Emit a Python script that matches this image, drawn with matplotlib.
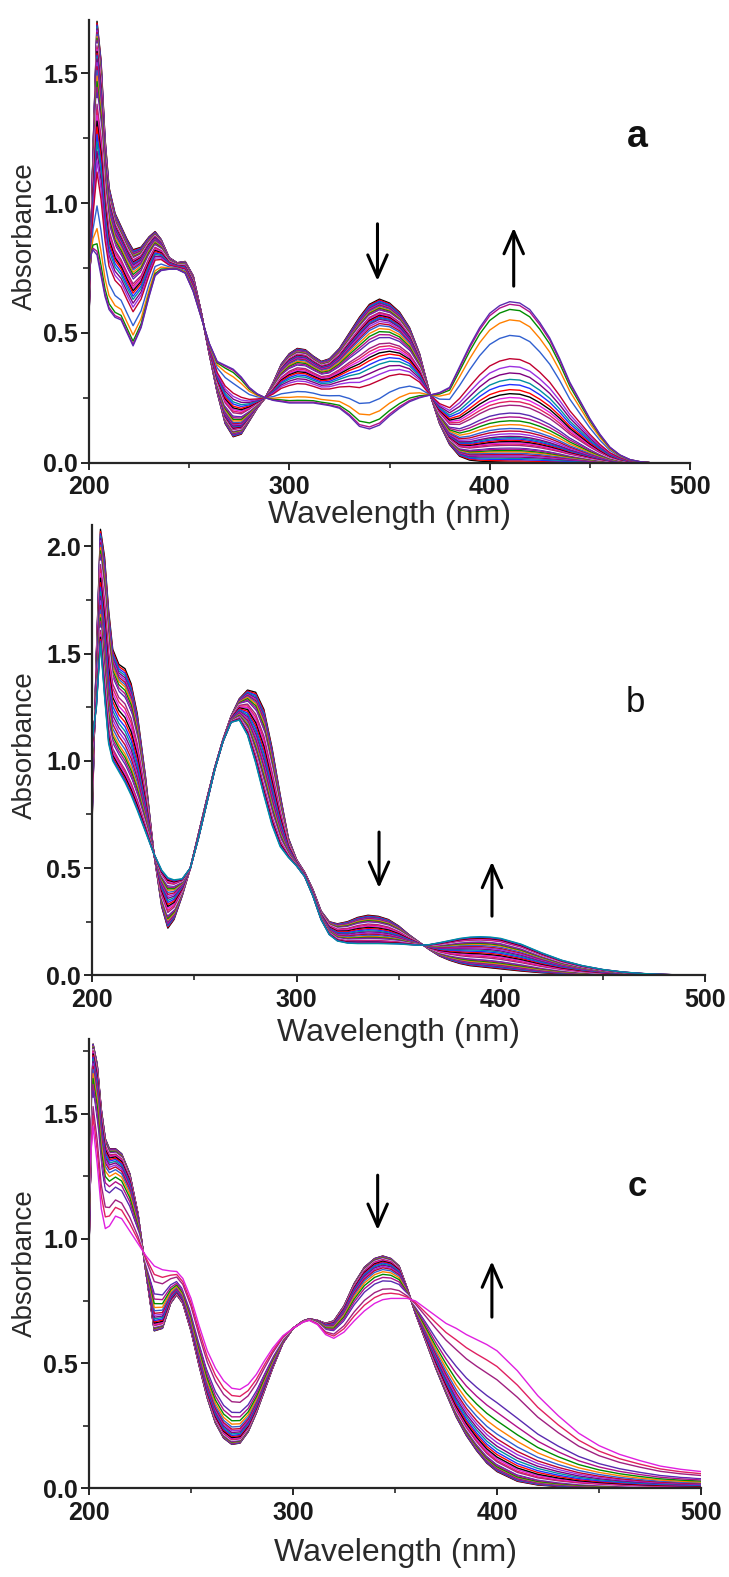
import numpy as np
import matplotlib
matplotlib.use("Agg")
import matplotlib.pyplot as plt
from matplotlib.ticker import MultipleLocator, FormatStrFormatter

plt.rcParams['font.family'] = ['Liberation Sans', 'DejaVu Sans']

# ---------------- data ----------------
# Panel a: first and last spectra of the titration, and the conversion fraction of each curve
wl_a = [200, 202, 204, 206, 208, 210, 213, 216, 219, 222, 226, 230, 233, 236, 240, 244, 248, 252,
        256, 260, 264, 268, 272, 276, 280, 284, 288, 292, 296, 300, 304, 308, 312, 316, 320, 325,
        330, 335, 340, 345, 350, 355, 360, 365, 370, 375, 380, 385, 390, 395, 400, 405, 410, 415,
        420, 425, 430, 435, 440, 445, 450, 455, 460, 465, 470, 475, 480, 500]
a_start = [0.55, 1.20, 1.70, 1.55, 1.25, 1.06, 0.96, 0.91, 0.86, 0.82, 0.83, 0.87, 0.89, 0.86, 0.79, 0.77, 0.775, 0.72,
           0.58, 0.42, 0.27, 0.15, 0.10, 0.11, 0.16, 0.21, 0.25, 0.31, 0.38, 0.42, 0.44, 0.435, 0.41, 0.39, 0.40, 0.44,
           0.50, 0.56, 0.61, 0.63, 0.615, 0.58, 0.52, 0.42, 0.27, 0.15, 0.07, 0.025, 0.01, 0.006, 0.004, 0.003, 0.002, 0.002,
           0.001, 0.001, 0.0, 0.0, 0.0, 0.0, 0.0, 0.0, 0.0, 0.0, 0.0, 0.0, 0.0, 0.0]
a_end = [0.78, 0.82, 0.80, 0.72, 0.64, 0.59, 0.56, 0.55, 0.50, 0.45, 0.52, 0.64, 0.72, 0.74, 0.745, 0.745, 0.73, 0.66,
         0.56, 0.46, 0.39, 0.375, 0.36, 0.33, 0.29, 0.265, 0.25, 0.24, 0.235, 0.23, 0.23, 0.23, 0.23, 0.225, 0.22, 0.21,
         0.18, 0.14, 0.13, 0.145, 0.18, 0.21, 0.235, 0.25, 0.26, 0.27, 0.29, 0.37, 0.45, 0.52, 0.575, 0.605, 0.62, 0.615,
         0.59, 0.54, 0.48, 0.40, 0.31, 0.24, 0.17, 0.11, 0.06, 0.03, 0.012, 0.004, 0.0, 0.0]
frac_a = [0.0, 0.008, 0.016, 0.024, 0.032, 0.04, 0.048, 0.056, 0.065, 0.073, 0.081, 0.089, 0.097, 0.105,
          0.113, 0.121, 0.129, 0.137, 0.145, 0.153, 0.161, 0.177, 0.194, 0.21, 0.234, 0.258, 0.282, 0.306,
          0.331, 0.355, 0.379, 0.403, 0.427, 0.452, 0.484, 0.516, 0.556, 0.597, 0.645, 0.79, 0.887, 0.952,
          0.984, 1.0]

# Panel b
wl_b = [200, 202, 204, 206, 208, 210, 213, 216, 219, 222, 226, 230, 234, 237, 240, 244, 248, 252, 256, 260,
        264, 268, 272, 276, 280, 284, 288, 292, 296, 300, 304, 308, 312, 316, 320, 325, 330, 335, 340, 345,
        350, 355, 360, 365, 370, 375, 380, 385, 390, 395, 400, 410, 420, 430, 440, 450, 460, 470, 480, 490, 500]
b_start = [0.75, 1.50, 2.08, 1.95, 1.70, 1.52, 1.45, 1.43, 1.36, 1.22, 0.93, 0.58, 0.32, 0.22, 0.26, 0.37, 0.50, 0.66, 0.82, 0.97,
           1.10, 1.21, 1.29, 1.33, 1.32, 1.24, 1.06, 0.84, 0.64, 0.54, 0.48, 0.40, 0.30, 0.25, 0.24, 0.25, 0.27, 0.28, 0.275, 0.26,
           0.23, 0.19, 0.155, 0.12, 0.09, 0.07, 0.055, 0.045, 0.04, 0.035, 0.03, 0.02, 0.012, 0.007, 0.004, 0.002, 0.001, 0.0, 0.0, 0.0, 0.0]
b_end = [1.10, 1.25, 1.55, 1.30, 1.08, 1.00, 0.95, 0.90, 0.84, 0.77, 0.67, 0.57, 0.49, 0.455, 0.445, 0.45, 0.50, 0.64, 0.80, 0.96,
         1.09, 1.18, 1.19, 1.12, 0.99, 0.84, 0.70, 0.60, 0.55, 0.51, 0.46, 0.37, 0.26, 0.19, 0.16, 0.15, 0.148, 0.148, 0.148, 0.147,
         0.146, 0.143, 0.14, 0.143, 0.152, 0.162, 0.172, 0.178, 0.18, 0.178, 0.172, 0.145, 0.105, 0.07, 0.045, 0.027, 0.015, 0.008, 0.004, 0.001, 0.0]
frac_b = [0.0, 0.02, 0.04, 0.06, 0.08, 0.10, 0.12, 0.14, 0.16, 0.19, 0.22, 0.25, 0.28, 0.31, 0.35, 0.39, 0.43, 0.47,
          0.51, 0.55, 0.59, 0.63, 0.67, 0.71, 0.75, 0.78, 0.81, 0.84, 0.87, 0.89, 0.91, 0.93, 0.95, 0.97, 0.985, 1.0]

# Panel c
wl_c = [200, 202, 204, 206, 208, 210, 213, 216, 220, 224, 228, 232, 236, 240, 243, 246, 250, 254, 258, 262,
        266, 270, 274, 278, 282, 286, 290, 295, 300, 305, 308, 312, 316, 320, 325, 330, 335, 340, 344, 348,
        352, 356, 360, 365, 370, 375, 380, 385, 390, 395, 400, 410, 420, 430, 440, 450, 460, 470, 480, 490, 500]
c_start = [0.95, 1.78, 1.70, 1.52, 1.40, 1.36, 1.36, 1.34, 1.26, 1.10, 0.86, 0.63, 0.64, 0.74, 0.775, 0.74, 0.63, 0.49, 0.36, 0.26,
           0.20, 0.175, 0.18, 0.225, 0.30, 0.39, 0.48, 0.58, 0.64, 0.67, 0.678, 0.672, 0.66, 0.67, 0.73, 0.82, 0.885, 0.92, 0.93, 0.92,
           0.89, 0.80, 0.70, 0.59, 0.48, 0.38, 0.285, 0.21, 0.15, 0.10, 0.066, 0.027, 0.012, 0.006, 0.003, 0.002, 0.001, 0.0, 0.0, 0.0, 0.0]
c_end = [1.25, 1.45, 1.30, 1.12, 1.04, 1.05, 1.09, 1.08, 1.03, 0.98, 0.93, 0.89, 0.875, 0.87, 0.868, 0.84, 0.76, 0.65, 0.55, 0.48,
         0.43, 0.40, 0.395, 0.415, 0.455, 0.51, 0.56, 0.61, 0.64, 0.665, 0.672, 0.655, 0.615, 0.60, 0.625, 0.67, 0.71, 0.74, 0.755, 0.76,
         0.76, 0.76, 0.75, 0.72, 0.69, 0.66, 0.64, 0.615, 0.595, 0.575, 0.55, 0.47, 0.37, 0.29, 0.22, 0.17, 0.135, 0.11, 0.088, 0.075, 0.066]
frac_c = [0.0, 0.004, 0.008, 0.012, 0.016, 0.02, 0.025, 0.03, 0.035, 0.04, 0.05, 0.06, 0.07, 0.08, 0.09, 0.105,
          0.12, 0.14, 0.16, 0.185, 0.21, 0.24, 0.27, 0.31, 0.36, 0.42, 0.49, 0.57, 0.66, 0.76, 0.87, 1.0]

x_ticks = [200, 300, 400, 500]
panel_letters = ['a', 'b', 'c']

# ---------------- styling ----------------
W, H = 729, 1577
cycle = ['#000000', '#ff0000', '#2030ff', '#0090a0', '#7f007f', '#9a30e0', '#c00030', '#3060d0',
         '#ff8000', '#008c00', '#b0108a', '#5a2ab0', '#ffffff', '#a02080', '#e02060', '#e020e0']
axis_col = '#262626'

fig = plt.figure(figsize=(W / 100, H / 100), dpi=100)


def px_rect(left, right, top, bottom):
    return [left / W, 1 - bottom / H, (right - left) / W, (bottom - top) / H]


panels = [
    dict(wl=wl_a, s=a_start, e=a_end, f=frac_a, rect=px_rect(89, 690, 20, 462.7), ytop=1.705,
         down=(344, 0.92, 0.70), up=(412, 0.68, 0.905), letter=(637, 137, 'bold', 27),
         xlab=515, ylab=236),
    dict(wl=wl_b, s=b_start, e=b_end, f=frac_b, rect=px_rect(92.3, 705, 525, 975.3), ytop=2.10,
         down=(340.4, 0.668, 0.407), up=(395.7, 0.276, 0.530), letter=(635, 702, 'normal', 25),
         xlab=1033, ylab=745),
    dict(wl=wl_c, s=c_start, e=c_end, f=frac_c, rect=px_rect(89, 701, 1039, 1488), ytop=1.80,
         down=(341.5, 1.254, 1.034), up=(397.5, 0.685, 0.909), letter=(637, 1187, 'bold', 25),
         xlab=1553, ylab=1263),
]

for p, letter in zip(panels, panel_letters):
    ax = fig.add_axes(p['rect'])
    wl = np.array(p['wl'])
    s = np.array(p['s'])
    e = np.array(p['e'])
    for i, fr in enumerate(p['f']):
        spec = s + fr * (e - s)
        ax.plot(wl, spec, color=cycle[i % len(cycle)], lw=1.0, solid_joinstyle='round', zorder=2)

    ax.set_xlim(200, 500)
    ax.set_ylim(0, p['ytop'])
    for side in ['top', 'right']:
        ax.spines[side].set_visible(False)
    for side in ['left', 'bottom']:
        ax.spines[side].set_linewidth(1.6)
        ax.spines[side].set_color(axis_col)
        ax.spines[side].set_zorder(5)
    ax.set_xticks(x_ticks)
    ax.xaxis.set_minor_locator(MultipleLocator(50))
    ax.yaxis.set_major_locator(MultipleLocator(0.5))
    ax.yaxis.set_minor_locator(MultipleLocator(0.25))
    ax.yaxis.set_major_formatter(FormatStrFormatter('%.1f'))
    ax.tick_params(axis='x', which='major', direction='out', length=5, width=1.4, pad=4,
                   labelsize=18, colors=axis_col)
    ax.tick_params(axis='x', which='minor', direction='out', length=3.5, width=1.2, colors=axis_col)
    ax.tick_params(axis='y', which='major', direction='out', length=6, width=1.4, pad=2,
                   labelsize=18, colors=axis_col)
    ax.tick_params(axis='y', which='minor', direction='out', length=4, width=1.2, colors=axis_col)
    for lbl in ax.get_xticklabels() + ax.get_yticklabels():
        lbl.set_fontweight('bold')
        lbl.set_color('#1a1a1a')
    ax.patch.set_alpha(0)

    arrow_kw = dict(arrowstyle='->,head_length=0.8,head_width=0.35', lw=2.2, color='black',
                    shrinkA=0, shrinkB=0, mutation_scale=20)
    dx, dy0, dy1 = p['down']
    ax.annotate('', xy=(dx, dy1), xytext=(dx, dy0), arrowprops=arrow_kw, zorder=6)
    ux, uy0, uy1 = p['up']
    ax.annotate('', xy=(ux, uy1), xytext=(ux, uy0), arrowprops=arrow_kw, zorder=6)

    lx, ly, lw_, lfs = p['letter']
    fig.text(lx / W, 1 - ly / H, letter, fontsize=lfs, fontweight=lw_, ha='center', va='center',
             color='#111111')
    cx = (p['rect'][0] + p['rect'][0] + p['rect'][2]) / 2
    fig.text(cx, 1 - p['xlab'] / H, 'Wavelength (nm)', fontsize=23, ha='center', va='center',
             color='#2a2a2a')
    fig.text(25 / W, 1 - p['ylab'] / H, 'Absorbance', fontsize=20, rotation=90, ha='center',
             va='center', color='#2a2a2a')

fig.savefig('out.png', dpi=100)
